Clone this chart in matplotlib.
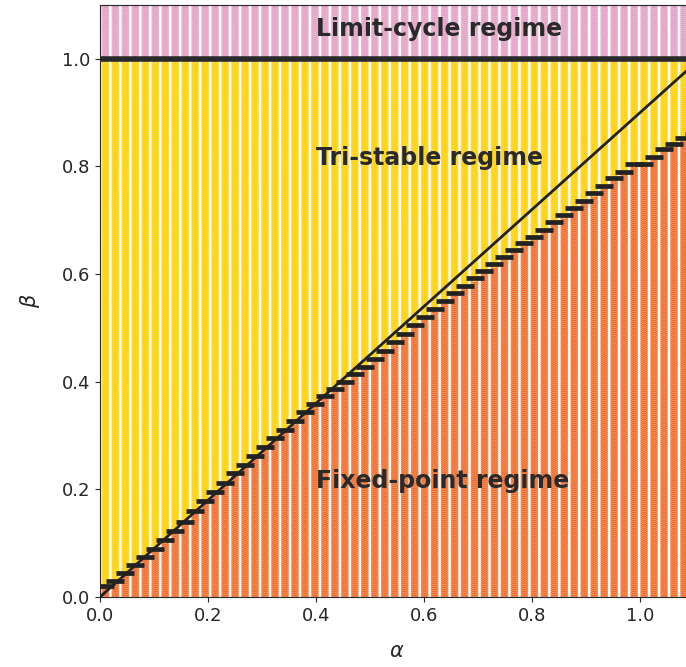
import numpy as np
import matplotlib
matplotlib.use('Agg')
import matplotlib.pyplot as plt
import seaborn as sns

sns.set_style('ticks')

# parameter grid used for the sweep
alpha_values = np.linspace(0.01, 1.1, 60)
beta_values = np.linspace(0, 1.1, 300)

# fixed-point / tri-stable boundary read per alpha column
boundary = [0.02, 0.03, 0.045, 0.06, 0.075, 0.09, 0.105, 0.123, 0.14, 0.16,
            0.178, 0.195, 0.212, 0.23, 0.246, 0.262, 0.279, 0.295, 0.31, 0.327,
            0.343, 0.358, 0.373, 0.387, 0.40, 0.414, 0.428, 0.443, 0.458, 0.473,
            0.489, 0.505, 0.52, 0.535, 0.55, 0.565, 0.578, 0.592, 0.605, 0.618,
            0.632, 0.645, 0.657, 0.669, 0.682, 0.696, 0.709, 0.722, 0.736, 0.75,
            0.764, 0.778, 0.79, 0.805, 0.805, 0.818, 0.832, 0.842, 0.852, 0.86]
limit_cycle_beta = 1.0
line_slope = 0.9

regime_colors = {'fixed': '#f26a25', 'tri': '#ffd100', 'limit': '#e4a0c4'}

fig = plt.figure(figsize=(6.86, 6.67), dpi=100)
ax = fig.add_axes([100 / 686, 70 / 667, 594 / 686, 592 / 667])

A, B = np.meshgrid(alpha_values, beta_values)
bound = np.array(boundary)[None, :].repeat(len(beta_values), axis=0)
colors = np.where(B > limit_cycle_beta, regime_colors['limit'],
                  np.where(B > bound, regime_colors['tri'], regime_colors['fixed']))

ax.scatter(A.ravel(), B.ravel(), c=colors.ravel(), s=30, marker='o',
           edgecolors='white', linewidths=0.15, zorder=1)

ax.scatter(alpha_values, boundary, marker='_', s=150, linewidths=3.4,
           color='#222222', zorder=3)
ax.axhline(limit_cycle_beta, color='#2a2a2a', lw=4, zorder=4)
ax.plot([0, 1.1], [0, line_slope * 1.1], color='#222222', lw=2, zorder=4)

ax.text(0.4, 1.055, 'Limit-cycle regime', fontsize=17, fontweight='bold',
        color='#2a2a2a', va='center')
ax.text(0.4, 0.815, 'Tri-stable regime', fontsize=17, fontweight='bold',
        color='#2a2a2a', va='center')
ax.text(0.4, 0.215, 'Fixed-point regime', fontsize=17, fontweight='bold',
        color='#2a2a2a', va='center')

ax.set_xlim(0, 1.1)
ax.set_ylim(0, 1.1)
ax.set_xticks([0.0, 0.2, 0.4, 0.6, 0.8, 1.0])
ax.set_yticks([0.0, 0.2, 0.4, 0.6, 0.8, 1.0])
ax.tick_params(labelsize=13)
ax.set_xlabel(r'$\alpha$', fontsize=15, labelpad=12)
ax.set_ylabel(r'$\beta$', fontsize=15, labelpad=14)

fig.savefig('out.png', dpi=100)
